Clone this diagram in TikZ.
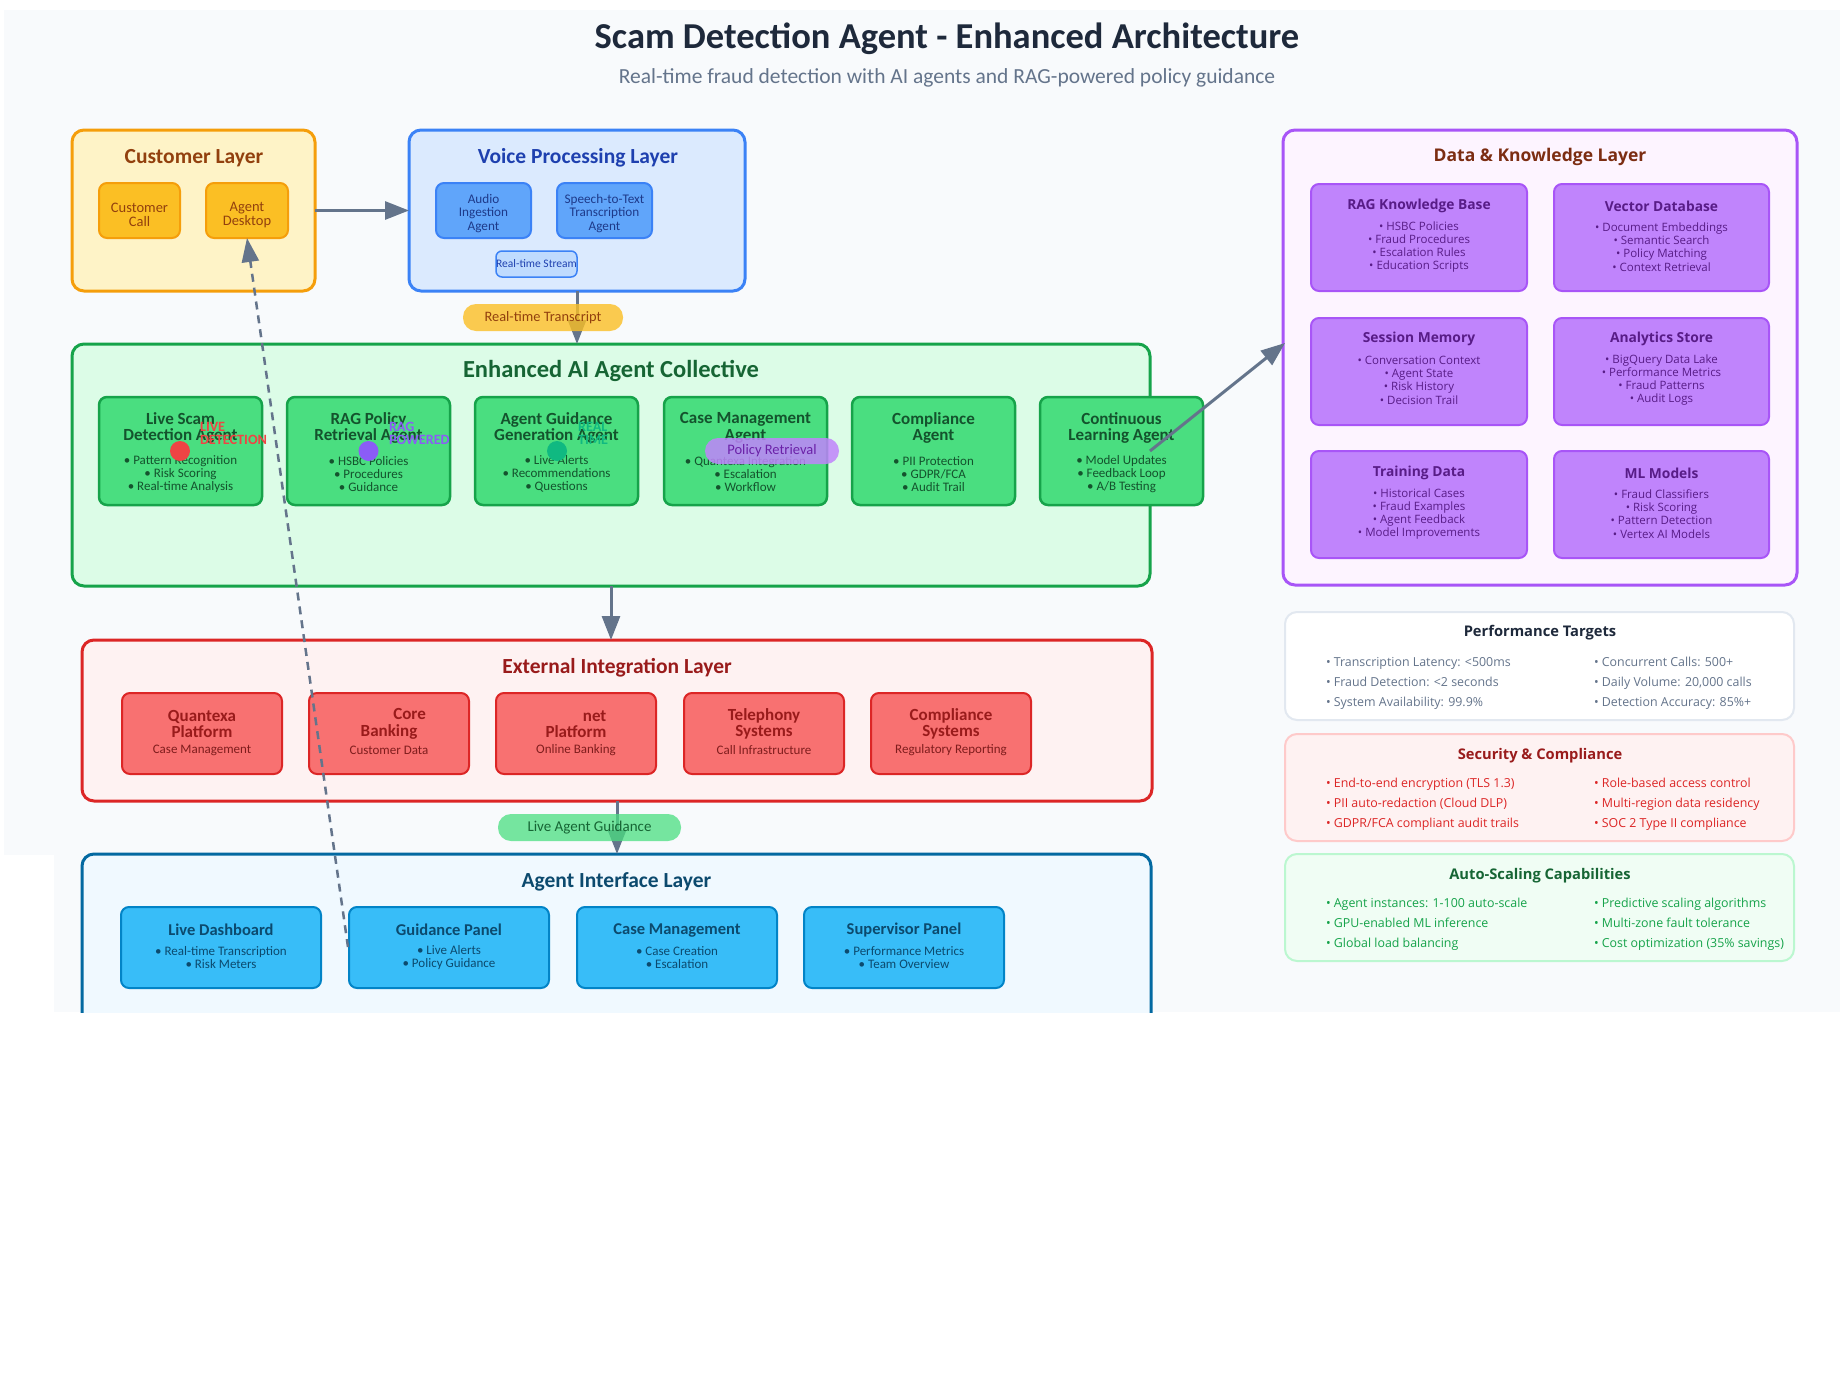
\documentclass[tikz,border=0pt]{standalone}
\usepackage{fontspec}
\setmainfont{Carlito}
\newfontfamily\nsans{Open Sans}
\usetikzlibrary{arrows.meta}
\definecolor{bgc}{HTML}{F8FAFC}
\definecolor{ttl}{HTML}{1E293B}
\definecolor{sub}{HTML}{64748B}
\definecolor{arc}{HTML}{64748B}
\definecolor{cfill}{HTML}{FEF3C7}
\definecolor{cdraw}{HTML}{F59E0B}
\definecolor{cin}{HTML}{FBBF24}
\definecolor{ctxt}{HTML}{92400E}
\definecolor{vfill}{HTML}{DBEAFE}
\definecolor{vdraw}{HTML}{3B82F6}
\definecolor{vin}{HTML}{60A5FA}
\definecolor{vstr}{HTML}{BFDBFE}
\definecolor{vtitle}{HTML}{1E40AF}
\definecolor{vtxt}{HTML}{1E3A8A}
\definecolor{gfill}{HTML}{DCFCE7}
\definecolor{gdraw}{HTML}{16A34A}
\definecolor{gin}{HTML}{4ADE80}
\definecolor{gtitle}{HTML}{166534}
\definecolor{gtxt}{HTML}{14532D}
\definecolor{efill}{HTML}{FEF2F2}
\definecolor{edraw}{HTML}{DC2626}
\definecolor{ein}{HTML}{F87171}
\definecolor{etitle}{HTML}{991B1B}
\definecolor{etxt}{HTML}{7F1D1D}
\definecolor{ifill}{HTML}{F0F9FF}
\definecolor{idraw}{HTML}{0369A1}
\definecolor{iin}{HTML}{38BDF8}
\definecolor{iindraw}{HTML}{0284C7}
\definecolor{itxt}{HTML}{0C4A6E}
\definecolor{dfill}{HTML}{FDF4FF}
\definecolor{ddraw}{HTML}{A855F7}
\definecolor{din}{HTML}{C084FC}
\definecolor{dtitle}{HTML}{7C2D12}
\definecolor{dtxt}{HTML}{581C87}
\definecolor{pdraw}{HTML}{E2E8F0}
\definecolor{sdraw}{HTML}{FECACA}
\definecolor{stxt}{HTML}{DC2626}
\definecolor{afill}{HTML}{F0FDF4}
\definecolor{adraw}{HTML}{BBF7D0}
\definecolor{atxt}{HTML}{16A34A}
\definecolor{dotred}{HTML}{EF4444}
\definecolor{dotpur}{HTML}{8B5CF6}
\definecolor{dotgrn}{HTML}{10B981}
\definecolor{ppur}{HTML}{C084FC}
\definecolor{ppurtxt}{HTML}{6B21A8}
\newcommand{\fsz}[2]{\fontsize{#1pt}{#2pt}\selectfont}
\begin{document}
\begin{tikzpicture}[x=1pt,y=-1pt,
  every node/.style={inner sep=0pt,outer sep=0pt},
  lay/.style={draw,rounded corners=12pt,line width=3pt,anchor=north west},
  inbox/.style={draw,rounded corners=8pt,line width=2.5pt,anchor=north west},
  thinbox/.style={draw,rounded corners=8pt,line width=2pt,anchor=north west},
  panel/.style={draw,rounded corners=12pt,line width=2pt,anchor=north west,minimum width=509pt},
  tx/.style={align=center,inner sep=0pt},
  arr/.style={draw=arc,line width=3pt,-{Triangle[length=24pt,width=18pt]}},
  dasharr/.style={draw=arc,line width=2.5pt,dash pattern=on 8pt off 6pt,-{Triangle[length=24pt,width=17pt]}},
  pill/.style={rounded corners=13pt,minimum height=27pt},
  dot/.style={circle,minimum size=20pt},
  agt/.style={tx,text=gtxt,font=\bfseries\fsz{17}{16.5}},
  agb/.style={tx,text=gtxt,font=\fsz{13}{13}},
  ext/.style={tx,text=etitle,font=\bfseries\fsz{17}{16.5}},
  exs/.style={tx,text=etxt,font=\fsz{13}{13}},
  ift/.style={tx,text=itxt,font=\bfseries\fsz{16.5}{17}},
  ifb/.style={tx,text=itxt,font=\fsz{13}{13}},
  dbt/.style={tx,text=dtxt,font=\nsans\bfseries\fsz{13.8}{16}},
  dbb/.style={tx,text=dtxt,font=\nsans\fsz{11.5}{13.3}},
  pnt/.style={tx,font=\nsans\bfseries\fsz{14.7}{17}},
  pnb/.style={tx,align=left,anchor=west,font=\nsans\fsz{12.4}{20}},
  laytitle/.style={tx,font=\bfseries\fsz{21.5}{24}},
]
\useasboundingbox (0,0) rectangle (1840,1373);
\fill[white] (0,0) rectangle (1840,1373);
\fill[bgc] (4,10) rectangle (1840,1012);
\fill[white] (0,855) rectangle (54,1013);

% Title
\node[tx,text=ttl,font=\bfseries\fsz{36.5}{40}] (title) at (947,39) {Scam Detection Agent - Enhanced Architecture};
\node[tx,text=sub,font=\fsz{21.5}{24}] (subtitle) at (947,78) {Real-time fraud detection with AI agents and RAG-powered policy guidance};

% Customer layer
\node[lay,fill=cfill,draw=cdraw,minimum width=243pt,minimum height=161pt] (cust) at (72,130) {};
\node[laytitle,text=ctxt] (custT) at (194,158) {Customer Layer};
\node[thinbox,fill=cin,draw=cdraw,minimum width=81pt,minimum height=55pt] (call) at (99,183) {};
\node[tx,text=ctxt,font=\fsz{14.5}{14}] (callT) at (139.5,215) {Customer\\Call};
\node[thinbox,fill=cin,draw=cdraw,minimum width=82pt,minimum height=55pt] (desk) at (206,183) {};
\node[tx,text=ctxt,font=\fsz{14.5}{14}] (deskT) at (247,215) {Agent\\Desktop};

% Voice layer
\node[lay,fill=vfill,draw=vdraw,minimum width=336pt,minimum height=161pt] (voice) at (409,130) {};
\node[laytitle,text=vtitle] (voiceT) at (578,158) {Voice Processing Layer};
\node[thinbox,fill=vin,draw=vdraw,minimum width=95pt,minimum height=55pt] (audio) at (436,183) {};
\node[tx,text=vtxt,font=\fsz{13.2}{13.5}] (audioT) at (483.5,213.5) {Audio\\Ingestion\\Agent};
\node[thinbox,fill=vin,draw=vdraw,minimum width=95pt,minimum height=55pt] (stt) at (557,183) {};
\node[tx,text=vtxt,font=\fsz{13.2}{13.5}] (sttT) at (604.5,213.5) {Speech-to-Text\\Transcription\\Agent};
\node[draw,rounded corners=6pt,line width=1.5pt,anchor=north west,fill=vstr,draw=vdraw,minimum width=81pt,minimum height=26pt] (stream) at (496,251) {};
\node[tx,text=vtitle,font=\fsz{11.5}{12}] (streamT) at (536.5,264) {Real-time Stream};

% Green layer
\node[lay,fill=gfill,draw=gdraw,minimum width=1078pt,minimum height=242pt] (green) at (72,344) {};
\node[tx,text=gtitle,font=\bfseries\fsz{24.5}{27}] (greenT) at (611,371) {Enhanced AI Agent Collective};

\node[inbox,fill=gin,draw=gdraw,minimum width=163pt,minimum height=108pt] (ag1) at (99,397) {};
\node[agt] (ag1t) at (180.5,428) {Live Scam\\Detection Agent};
\node[agb] (ag1b) at (180.5,474) {• Pattern Recognition\\• Risk Scoring\\• Real-time Analysis};

\node[inbox,fill=gin,draw=gdraw,minimum width=163pt,minimum height=108pt] (ag2) at (287,397) {};
\node[agt] (ag2t) at (368.5,428) {RAG Policy\\Retrieval Agent};
\node[agb] (ag2b) at (368.5,474) {• HSBC Policies\\• Procedures\\• Guidance};

\node[inbox,fill=gin,draw=gdraw,minimum width=163pt,minimum height=108pt] (ag3) at (475,397) {};
\node[agt] (ag3t) at (556.5,428) {Agent Guidance\\Generation Agent};
\node[agb] (ag3b) at (556.5,474) {• Live Alerts\\• Recommendations\\• Questions};

\node[inbox,fill=gin,draw=gdraw,minimum width=163pt,minimum height=108pt] (ag4) at (664,397) {};
\node[agt] (ag4t) at (745.5,428) {Case Management\\Agent};
\node[agb] (ag4b) at (745.5,474) {• Quantexa Integration\\• Escalation\\• Workflow};

\node[inbox,fill=gin,draw=gdraw,minimum width=163pt,minimum height=108pt] (ag5) at (852,397) {};
\node[agt] (ag5t) at (933.5,428) {Compliance\\Agent};
\node[agb] (ag5b) at (933.5,474) {• PII Protection\\• GDPR/FCA\\• Audit Trail};

\node[inbox,fill=gin,draw=gdraw,minimum width=163pt,minimum height=108pt] (ag6) at (1040,397) {};
\node[agt] (ag6t) at (1121.5,428) {Continuous\\Learning Agent};
\node[agb] (ag6b) at (1121.5,474) {• Model Updates\\• Feedback Loop\\• A/B Testing};

% External layer
\node[lay,fill=efill,draw=edraw,minimum width=1070pt,minimum height=161pt] (ext) at (82,640) {};
\node[laytitle,text=etitle] (extT) at (617,668) {External Integration Layer};
\node[thinbox,fill=ein,draw=edraw,minimum width=160pt,minimum height=81pt] (ex1) at (122,693) {};
\node[ext] (ex1t) at (202,724) {Quantexa\\Platform};
\node[exs] (ex1s) at (202,750) {Case Management};
\node[thinbox,fill=ein,draw=edraw,minimum width=160pt,minimum height=81pt] (ex2) at (309,693) {};
\node[ext] (ex2t) at (389,724) {\phantom{HSBC} Core\\Banking};
\node[exs] (ex2s) at (389,750) {Customer Data};
\node[thinbox,fill=ein,draw=edraw,minimum width=160pt,minimum height=81pt] (ex3) at (496,693) {};
\node[ext] (ex3t) at (576,724) {\phantom{HSBC}net\\Platform};
\node[exs] (ex3s) at (576,750) {Online Banking};
\node[thinbox,fill=ein,draw=edraw,minimum width=160pt,minimum height=81pt] (ex4) at (684,693) {};
\node[ext] (ex4t) at (764,724) {Telephony\\Systems};
\node[exs] (ex4s) at (764,750) {Call Infrastructure};
\node[thinbox,fill=ein,draw=edraw,minimum width=160pt,minimum height=81pt] (ex5) at (871,693) {};
\node[ext] (ex5t) at (951,724) {Compliance\\Systems};
\node[exs] (ex5s) at (951,750) {Regulatory Reporting};

% Interface layer (clipped at bottom)
\begin{scope}
\clip (0,0) rectangle (1840,1012);
\node[lay,fill=ifill,draw=idraw,minimum width=1069pt,minimum height=190pt] (iface) at (82,854) {};
\end{scope}
\node[laytitle,text=itxt] (ifaceT) at (616.5,882) {Agent Interface Layer};
\node[thinbox,fill=iin,draw=iindraw,minimum width=200pt,minimum height=81pt] (if1) at (121,907) {};
\node[ift] (if1t) at (221,930) {Live Dashboard};
\node[ifb] (if1b) at (221,957.5) {• Real-time Transcription\\• Risk Meters};
\node[thinbox,fill=iin,draw=iindraw,minimum width=200pt,minimum height=81pt] (if2) at (349,907) {};
\node[ift] (if2t) at (449,930) {Guidance Panel};
\node[ifb] (if2b) at (449,957.5) {• Live Alerts\\• Policy Guidance};
\node[thinbox,fill=iin,draw=iindraw,minimum width=200pt,minimum height=81pt] (if3) at (577,907) {};
\node[ift] (if3t) at (677,930) {Case Management};
\node[ifb] (if3b) at (677,957.5) {• Case Creation\\• Escalation};
\node[thinbox,fill=iin,draw=iindraw,minimum width=200pt,minimum height=81pt] (if4) at (804,907) {};
\node[ift] (if4t) at (904,930) {Supervisor Panel};
\node[ifb] (if4b) at (904,957.5) {• Performance Metrics\\• Team Overview};

% Data & Knowledge layer
\node[lay,fill=dfill,draw=ddraw,minimum width=514pt,minimum height=455pt] (data) at (1283,130) {};
\node[tx,text=dtitle,font=\nsans\bfseries\fsz{17.5}{20}] (dataT) at (1540,157) {Data \& Knowledge Layer};
\node[thinbox,fill=din,draw=ddraw,minimum width=216pt,minimum height=107pt] (d1) at (1311,184) {};
\node[dbt] (d1t) at (1419,206) {RAG Knowledge Base};
\node[dbb] (d1b) at (1419,247) {• HSBC Policies\\• Fraud Procedures\\• Escalation Rules\\• Education Scripts};
\node[thinbox,fill=din,draw=ddraw,minimum width=215pt,minimum height=107pt] (d2) at (1554,184) {};
\node[dbt] (d2t) at (1661.5,206) {Vector Database};
\node[dbb] (d2b) at (1661.5,247) {• Document Embeddings\\• Semantic Search\\• Policy Matching\\• Context Retrieval};
\node[thinbox,fill=din,draw=ddraw,minimum width=216pt,minimum height=107pt] (d3) at (1311,318) {};
\node[dbt] (d3t) at (1419,339) {Session Memory};
\node[dbb] (d3b) at (1419,380) {• Conversation Context\\• Agent State\\• Risk History\\• Decision Trail};
\node[thinbox,fill=din,draw=ddraw,minimum width=215pt,minimum height=107pt] (d4) at (1554,318) {};
\node[dbt] (d4t) at (1661.5,339) {Analytics Store};
\node[dbb] (d4b) at (1661.5,380) {• BigQuery Data Lake\\• Performance Metrics\\• Fraud Patterns\\• Audit Logs};
\node[thinbox,fill=din,draw=ddraw,minimum width=216pt,minimum height=107pt] (d5) at (1311,451) {};
\node[dbt] (d5t) at (1419,473) {Training Data};
\node[dbb] (d5b) at (1419,514) {• Historical Cases\\• Fraud Examples\\• Agent Feedback\\• Model Improvements};
\node[thinbox,fill=din,draw=ddraw,minimum width=215pt,minimum height=107pt] (d6) at (1554,451) {};
\node[dbt] (d6t) at (1661.5,473) {ML Models};
\node[dbb] (d6b) at (1661.5,514) {• Fraud Classifiers\\• Risk Scoring\\• Pattern Detection\\• Vertex AI Models};

% Right panels
\node[panel,fill=white,draw=pdraw,minimum height=108pt] (perf) at (1285,612) {};
\node[pnt,text=ttl] (perfT) at (1540,633) {Performance Targets};
\node[pnb,text=sub] (perfA) at (1326,683) {• Transcription Latency: <500ms\\• Fraud Detection: <2 seconds\\• System Availability: 99.9\%};
\node[pnb,text=sub] (perfB) at (1594,683) {• Concurrent Calls: 500+\\• Daily Volume: 20,000 calls\\• Detection Accuracy: 85\%+};

\node[panel,fill=efill,draw=sdraw,minimum height=107pt] (sec) at (1285,734) {};
\node[pnt,text=etitle] (secT) at (1540,756) {Security \& Compliance};
\node[pnb,text=stxt] (secA) at (1326,804) {• End-to-end encryption (TLS 1.3)\\• PII auto-redaction (Cloud DLP)\\• GDPR/FCA compliant audit trails};
\node[pnb,text=stxt] (secB) at (1594,804) {• Role-based access control\\• Multi-region data residency\\• SOC 2 Type II compliance};

\node[panel,fill=afill,draw=adraw,minimum height=107pt] (auto) at (1285,854) {};
\node[pnt,text=gtitle] (autoT) at (1540,876) {Auto-Scaling Capabilities};
\node[pnb,text=atxt] (autoA) at (1326,924) {• Agent instances: 1-100 auto-scale\\• GPU-enabled ML inference\\• Global load balancing};
\node[pnb,text=atxt] (autoB) at (1594,924) {• Predictive scaling algorithms\\• Multi-zone fault tolerance\\• Cost optimization (35\% savings)};

% Connectors
\draw[arr] (cust.east) -- (voice.west);
\draw[arr] (voice.south) -- (voice.south |- green.north);
\draw[arr] (green.south) -- (green.south |- ext.north);
\draw[arr] (ext.south) -- (ext.south |- iface.north);
\coordinate (clsrc) at (1150,451);
\coordinate (dkin) at (1285,343);
\draw[arr] (clsrc) -- (dkin);

% Pills
\node[pill,fill=cin,fill opacity=0.8,minimum width=160pt] (rtp) at (543,317.5) {};
\node[tx,text=ctxt,font=\fsz{14.4}{14}] (rtpT) at (543,317.5) {Real-time Transcript};
\node[pill,fill=gin,fill opacity=0.75,minimum width=183pt] (lag) at (589.5,827.5) {};
\node[tx,text=gtitle,font=\fsz{15}{15}] (lagT) at (589.5,827.5) {Live Agent Guidance};

% Badges
\node[dot,fill=dotred] (dot1) at (180,451) {};
\node[tx,align=left,anchor=west,text=dotred,font=\bfseries\fsz{14.2}{13}] (lab1) at (200,433.5) {LIVE\\DETECTION};
\node[dot,fill=dotpur] (dot2) at (368.5,451) {};
\node[tx,align=left,anchor=west,text=dotpur,font=\bfseries\fsz{14.2}{13}] (lab2) at (389,433.5) {RAG\\POWERED};
\node[dot,fill=dotgrn] (dot3) at (557,451) {};
\node[tx,align=left,anchor=west,text=dotgrn,font=\bfseries\fsz{14.2}{13}] (lab3) at (578,433.5) {REAL\\TIME};
\node[pill,rounded corners=13pt,minimum height=26pt,minimum width=134pt,fill=ppur,fill opacity=0.85] (pol) at (772,451) {};
\node[tx,text=ppurtxt,font=\fsz{14.5}{14}] (polT) at (772,451) {Policy Retrieval};

% Dashed feedback
\coordinate (gpsrc) at (348,947);
\draw[dasharr] (gpsrc) -- (desk.south);
\end{tikzpicture}
\end{document}
